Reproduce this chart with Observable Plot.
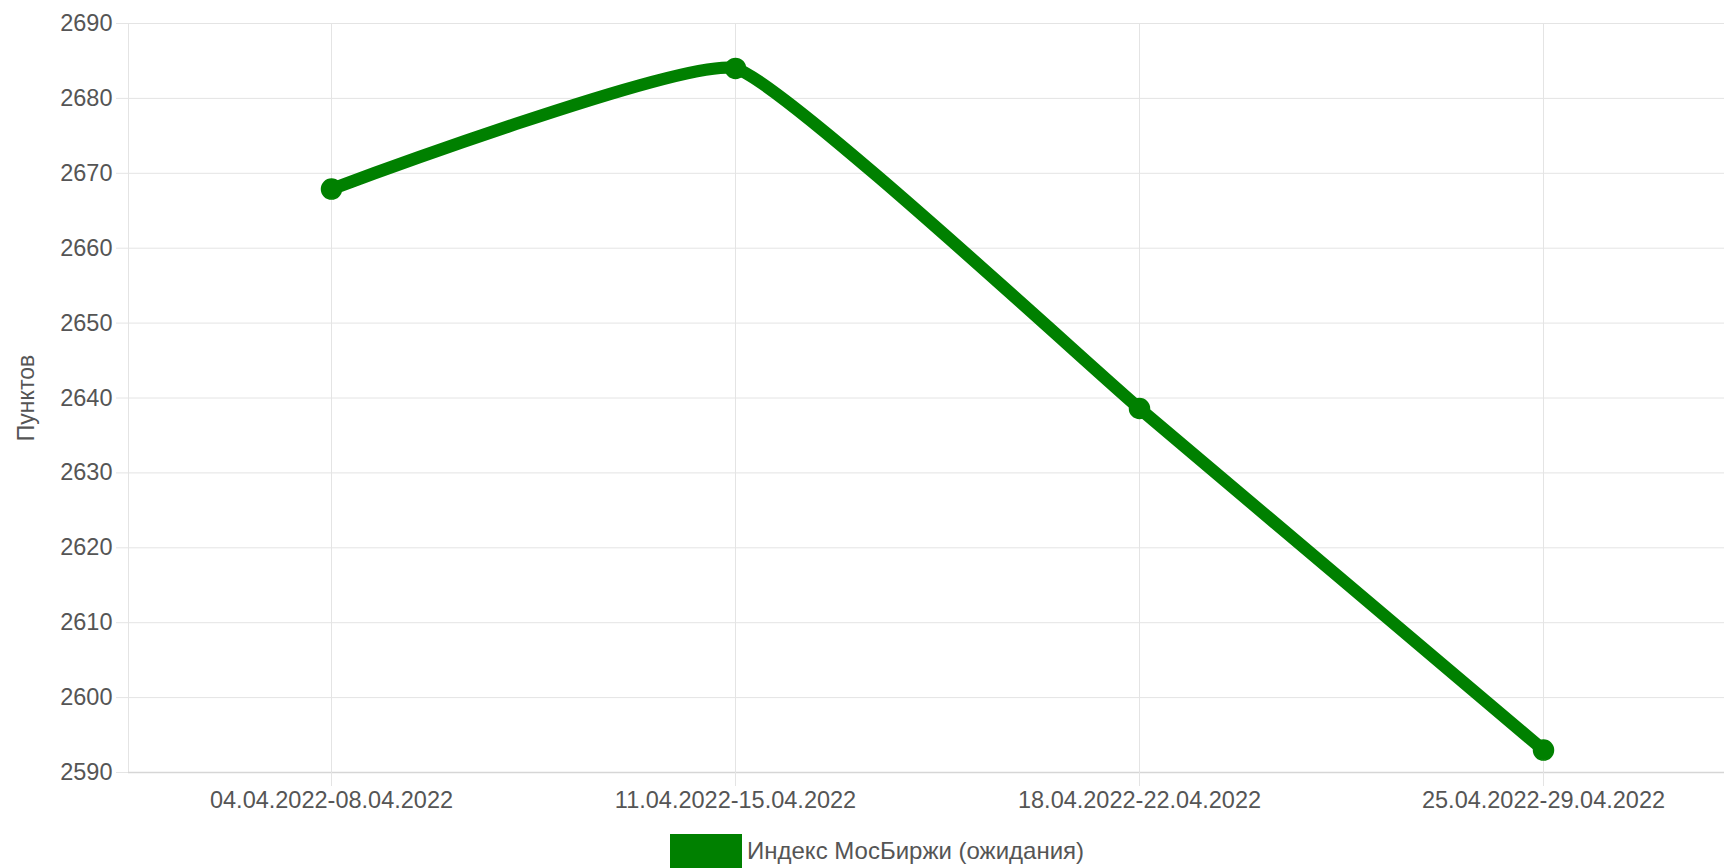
<!DOCTYPE html>
<html>
<head>
<meta charset="utf-8">
<script src="https://cdn.jsdelivr.net/npm/d3@7"></script>
<script src="https://cdn.jsdelivr.net/npm/@observablehq/plot@0.6"></script>
<style>
  html, body { margin: 0; padding: 0; background: #fff; overflow: hidden; }
  body { width: 1724px; height: 868px; position: relative; font-family: "Liberation Sans", Arial, sans-serif; }
  #chart { position: absolute; left: 0; top: 0; }
  #legend { position: absolute; left: 670px; top: 834px; display: flex; align-items: center; font-size: 24px; color: #555; }
  #legend .box { width: 72px; height: 34px; background: #008000; margin-right: 5px; }
</style>
</head>
<body>
<div id="chart"></div>
<div id="legend"><div class="box"></div><span id="legendText"></span></div>
<script>
const categories = ["04.04.2022-08.04.2022", "11.04.2022-15.04.2022", "18.04.2022-22.04.2022", "25.04.2022-29.04.2022"];
const values = [2667.9, 2684.0, 2638.6, 2593.0];
const yTicks = [2590, 2600, 2610, 2620, 2630, 2640, 2650, 2660, 2670, 2680, 2690];
const seriesName = "Индекс МосБиржи (ожидания)";
const yLabel = "Пунктов";

const data = categories.map((c, i) => ({period: c, value: values[i]}));
const green = "#008000";
const grid = "#e4e4e4";

const chart = Plot.plot({
  width: 1724,
  height: 820,
  marginTop: 23,
  marginBottom: 48,
  marginLeft: 128,
  marginRight: 0,
  style: {fontFamily: "'Liberation Sans', Arial, sans-serif", fontSize: "23.5px", color: "#555", background: "#fff"},
  x: {type: "point", domain: categories, range: [330, 1543], padding: 0},
  y: {domain: [2590, 2690]},
  marks: [
    Plot.gridY(yTicks, {stroke: grid, strokeOpacity: 1}),
    Plot.gridX(categories, {stroke: grid, strokeOpacity: 1}),
    Plot.frame({anchor: "left", stroke: grid}),
    Plot.ruleY([2590], {stroke: "#d6d6d6", strokeWidth: 1.5}),
    Plot.axisY(yTicks, {tickSize: 12, tickPadding: 4, stroke: grid, fill: "#555", label: null, tickFormat: d => String(d)}),
    Plot.axisX(categories, {tickSize: 14, tickPadding: 5, stroke: grid, fill: "#555", label: null}),
    Plot.text([yLabel], {frameAnchor: "left", textAnchor: "middle", rotate: -90, dx: -102, fill: "#555", fontSize: 23}),
    Plot.line(data, {x: "period", y: "value", stroke: green, strokeWidth: 12.5, curve: "cardinal", tension: 0.65}),
    Plot.dot(data, {x: "period", y: "value", r: 10, fill: green, stroke: green})
  ]
});
document.getElementById("chart").appendChild(chart);
document.getElementById("legendText").textContent = seriesName;
</script>
</body>
</html>
